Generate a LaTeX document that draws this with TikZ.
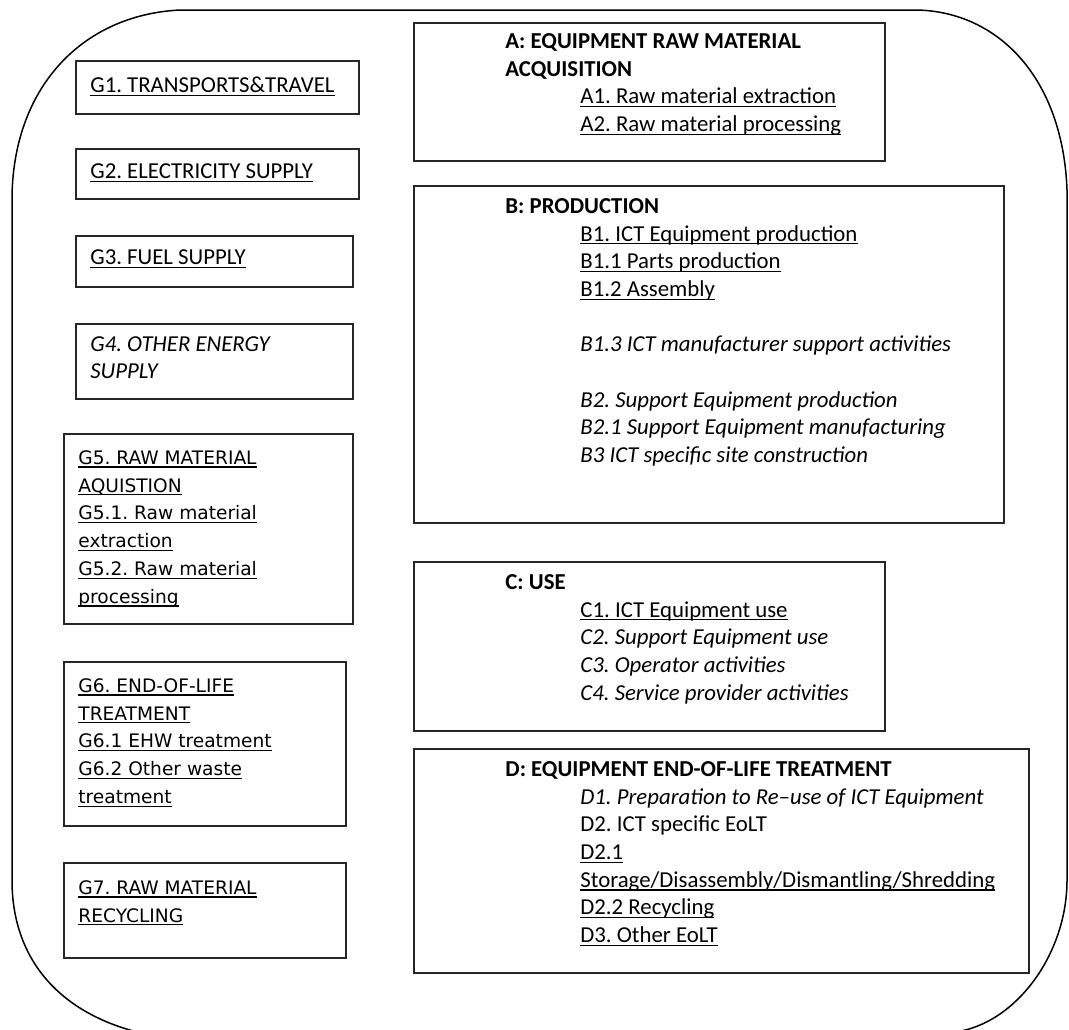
\documentclass[tikz,border=0pt]{standalone}
\usepackage{fontspec}
\setmainfont{Carlito}
\newfontfamily\verdfont{DejaVu Sans}
\usepackage{tikz}
\usetikzlibrary{positioning}

\frenchspacing
\newcommand{\ind}{\hspace*{37.5pt}}
\newlength{\ulwd}
\newcommand{\uln}[1]{\settowidth{\ulwd}{#1}\rlap{\rule[-1.7pt]{\ulwd}{0.65pt}}#1}

\begin{document}
\begin{tikzpicture}[x=0.5pt, y=-0.5pt,
			box/.style={draw=black!85, line width=0.9pt, rectangle, anchor=north west, inner sep=0pt},
			txt/.style={anchor=north west, inner sep=0pt, align=left, font=\fontsize{11.4}{13.85}\selectfont, execute at begin node=\strut},
			gtxt/.style={anchor=north west, inner sep=0pt, align=left, font=\verdfont\fontsize{9.3}{13.9}\selectfont, execute at begin node=\strut},
			outline/.style={draw=black, line width=0.75pt}]

			\useasboundingbox (0,0) rectangle (1069,1029);
			\clip (0,0) rectangle (1069,1029);

			% outer frame
			\draw[outline] (180,10) -- (917,10) .. controls (1000,12) and (1063,80) .. (1067,190)
				-- (1067,880) .. controls (1067,955) and (1015,1024) .. (955,1032)
				-- (137,1032) .. controls (60,1012) and (12,960) .. (12,880)
				-- (12,200) .. controls (12,90) and (80,15) .. (180,10);

			% left column
			\node[box, minimum width=141.5pt, minimum height=26.5pt] (g1) at (75,60) {};
			\node[box, minimum width=141.5pt, minimum height=25pt] (g2) at (75,148) {};
			\node[box, minimum width=138.5pt, minimum height=25.5pt] (g3) at (75,235) {};
			\node[box, minimum width=138.5pt, minimum height=37.5pt] (g4) at (75,323) {};
			\node[box, minimum width=144.5pt, minimum height=95pt] (g5) at (63,433) {};
			\node[box, minimum width=141pt, minimum height=82pt] (g6) at (63,661) {};
			\node[box, minimum width=141pt, minimum height=47.5pt] (g7) at (63,862) {};

			\node[txt] (g1t) at ([shift={(15,13)}]g1.north west) {\uln{G1. TRANSPORTS\&TRAVEL}};
			\node[txt] (g2t) at ([shift={(15,11)}]g2.north west) {\uln{G2. ELECTRICITY SUPPLY}};
			\node[txt] (g3t) at ([shift={(15,10)}]g3.north west) {\uln{G3. FUEL SUPPLY}};
			\node[txt] (g4t) at ([shift={(15,13)}]g4.north west) {\textit{G4. OTHER ENERGY}\\\textit{SUPPLY}};
			\node[gtxt] (g5t) at ([shift={(15,17)}]g5.north west) {\uln{G5. RAW MATERIAL}\\\uln{AQUISTION}\\\uln{G5.1. Raw material}\\\uln{extraction}\\\uln{G5.2. Raw material}\\\uln{processing}};
			\node[gtxt] (g6t) at ([shift={(15,17)}]g6.north west) {\uln{G6. END-OF-LIFE}\\\uln{TREATMENT}\\\uln{G6.1 EHW treatment}\\\uln{G6.2 Other waste}\\\uln{treatment}};
			\node[gtxt] (g7t) at ([shift={(15,18)}]g7.north west) {\uln{G7. RAW MATERIAL}\\\uln{RECYCLING}};

			% right column
			\node[box, minimum width=235.5pt, minimum height=69pt] (a) at (413,22) {};
			\node[box, minimum width=295pt, minimum height=168.5pt] (b) at (413,185) {};
			\node[box, minimum width=235.5pt, minimum height=84.5pt] (c) at (413,561) {};
			\node[box, minimum width=307.5pt, minimum height=112pt] (d) at (413,748) {};

			\node[txt] (at) at ([shift={(92,11)}]a.north west) {\textbf{A: EQUIPMENT RAW MATERIAL}\\\textbf{ACQUISITION}\\
				\ind\uln{A1. Raw material extraction}\\\ind\uln{A2. Raw material processing}};
			\node[txt] (bt) at ([shift={(92,13)}]b.north west) {\textbf{B: PRODUCTION}\\
				\ind\uln{B1. ICT Equipment production}\\\ind\uln{B1.1 Parts production}\\\ind\uln{B1.2 Assembly}\\[13.85pt]
				\ind\textit{B1.3 ICT manufacturer support activities}\\[13.85pt]
				\ind\textit{B2. Support Equipment production}\\\ind\textit{B2.1 Support Equipment manufacturing}\\
				\ind\textit{B3 ICT specific site construction}};
			\node[txt] (ct) at ([shift={(92,13)}]c.north west) {\textbf{C: USE}\\
				\ind\uln{C1. ICT Equipment use}\\\ind\textit{C2. Support Equipment use}\\
				\ind\textit{C3. Operator activities}\\\ind\textit{C4. Service provider activities}};
			\node[txt] (dt) at ([shift={(92,13)}]d.north west) {\textbf{D: EQUIPMENT END-OF-LIFE TREATMENT}\\
				\ind\textit{D1. Preparation to Re--use of ICT Equipment}\\\ind D2. ICT specific EoLT\\
				\ind\uln{D2.1}\\\ind\uln{Storage/Disassembly/Dismantling/Shredding}\\
				\ind\uln{D2.2 Recycling}\\\ind\uln{D3. Other EoLT}};

		\end{tikzpicture}
\end{document}
